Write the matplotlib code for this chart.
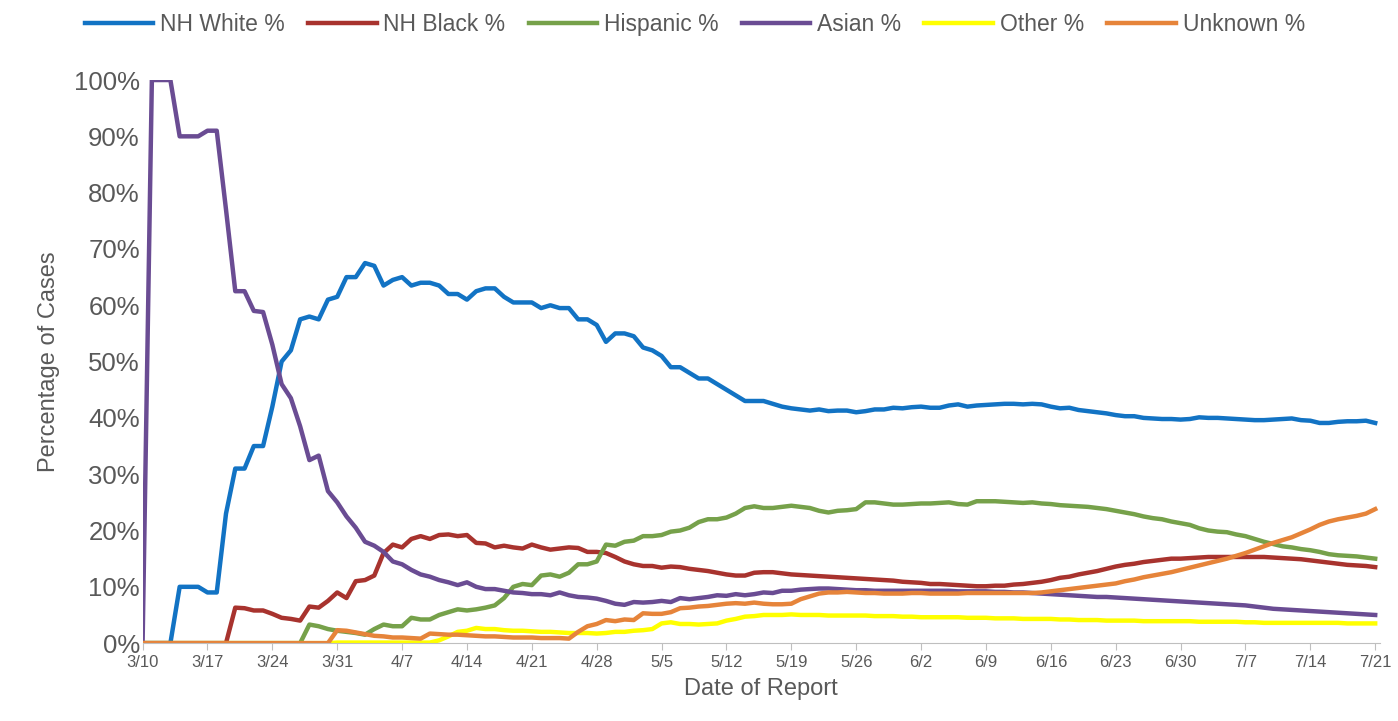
import matplotlib
matplotlib.use("Agg")
import matplotlib.pyplot as plt
from matplotlib.ticker import FuncFormatter
import numpy as np

# daily values, 3/10 .. 7/21 (134 days), split by month
white = (
    [0, 0, 0, 0, 10, 10, 10, 9, 9, 23, 31, 31, 35, 35, 42, 50, 52, 57.5, 58, 57.5, 61, 61.5]
    + [65, 65, 67.5, 67, 63.5, 64.5, 65, 63.5, 64, 64, 63.5, 62, 62, 61, 62.5, 63, 63, 61.5, 60.5, 60.5,
       60.5, 59.5, 60, 59.5, 59.5, 57.5, 57.5, 56.5, 53.5, 55]
    + [55, 54.5, 52.5, 52, 51, 49, 49, 48, 47, 47, 46, 45, 44, 43, 43, 43, 42.5, 42, 41.7, 41.5,
       41.3, 41.5, 41.2, 41.3, 41.3, 41, 41.2, 41.5, 41.5, 41.8, 41.7]
    + [41.9, 42, 41.8, 41.8, 42.2, 42.4, 42, 42.2, 42.3, 42.4, 42.5, 42.5, 42.4, 42.5, 42.4, 42, 41.7,
       41.8, 41.4, 41.2, 41, 40.8, 40.5, 40.3, 40.3, 40, 39.9, 39.8, 39.8, 39.7]
    + [39.8, 40.1, 40, 40, 39.9, 39.8, 39.7, 39.6, 39.6, 39.7, 39.8, 39.9, 39.6, 39.5, 39.1, 39.1,
       39.3, 39.4, 39.4, 39.5, 39.1]
)
black = (
    [0] * 10 + [6.3, 6.2, 5.8, 5.8, 5.2, 4.5, 4.3, 4, 6.5, 6.3, 7.5, 9]
    + [8, 11, 11.2, 12, 16, 17.5, 17, 18.5, 19, 18.5, 19.2, 19.3, 19, 19.2, 17.8, 17.7, 17, 17.3, 17,
       16.8, 17.5, 17, 16.6, 16.8, 17, 16.9, 16.2, 16.2, 16, 15.3]
    + [14.5, 14, 13.7, 13.7, 13.4, 13.6, 13.5, 13.2, 13, 12.8, 12.5, 12.2, 12, 12, 12.5, 12.6, 12.6,
       12.4, 12.2, 12.1, 12, 11.9, 11.8, 11.7, 11.6, 11.5, 11.4, 11.3, 11.2, 11.1, 10.9]
    + [10.8, 10.7, 10.5, 10.5, 10.4, 10.3, 10.2, 10.1, 10.1, 10.2, 10.2, 10.4, 10.5, 10.7, 10.9, 11.2,
       11.6, 11.8, 12.2, 12.5, 12.8, 13.2, 13.6, 13.9, 14.1, 14.4, 14.6, 14.8, 15, 15]
    + [15.1, 15.2, 15.3, 15.3, 15.3, 15.3, 15.3, 15.3, 15.3, 15.2, 15.1, 15, 14.9, 14.7, 14.5, 14.3,
       14.1, 13.9, 13.8, 13.7, 13.5]
)
hispanic = (
    [0] * 18 + [3.3, 3, 2.5, 2.2]
    + [2, 1.8, 1.5, 2.5, 3.3, 3, 3, 4.5, 4.2, 4.2, 5, 5.5, 6, 5.8, 6, 6.3, 6.7, 8, 10, 10.5, 10.3,
       12, 12.2, 11.8, 12.5, 14, 14, 14.5, 17.5, 17.3]
    + [18, 18.2, 19, 19, 19.2, 19.8, 20, 20.5, 21.5, 22, 22, 22.3, 23, 24, 24.3, 24, 24, 24.2, 24.4,
       24.2, 24, 23.5, 23.2, 23.5, 23.6, 23.8, 25, 25, 24.8, 24.6, 24.6]
    + [24.7, 24.8, 24.8, 24.9, 25, 24.7, 24.6, 25.2, 25.2, 25.2, 25.1, 25, 24.9, 25, 24.8, 24.7, 24.5,
       24.4, 24.3, 24.2, 24, 23.8, 23.5, 23.2, 22.9, 22.5, 22.2, 22, 21.6, 21.3]
    + [21, 20.4, 20, 19.8, 19.7, 19.3, 19, 18.5, 18, 17.6, 17.2, 17, 16.7, 16.5, 16.2, 15.8, 15.6,
       15.5, 15.4, 15.2, 15]
)
asian = (
    [0, 100, 100, 100, 90, 90, 90, 91, 91, 77, 62.5, 62.5, 59, 58.8, 53, 46, 43.5, 38.5, 32.5, 33.3,
     27, 25]
    + [22.5, 20.5, 18, 17.3, 16.2, 14.5, 14, 13, 12.2, 11.8, 11.2, 10.8, 10.3, 10.8, 10, 9.6, 9.6, 9.3,
       9, 8.9, 8.7, 8.7, 8.5, 9, 8.5, 8.2, 8.1, 7.9, 7.5, 7]
    + [6.8, 7.3, 7.2, 7.3, 7.5, 7.3, 8, 7.8, 8, 8.2, 8.5, 8.4, 8.7, 8.5, 8.7, 9, 8.9, 9.3, 9.3, 9.5,
       9.6, 9.7, 9.7, 9.6, 9.5, 9.4, 9.4, 9.3, 9.3, 9.3, 9.3]
    + [9.3, 9.3, 9.3, 9.3, 9.3, 9.2, 9.2, 9.2, 9.2, 9.1, 9.1, 9, 9, 8.9, 8.8, 8.7, 8.6, 8.5, 8.4, 8.3,
       8.2, 8.2, 8.1, 8, 7.9, 7.8, 7.7, 7.6, 7.5, 7.4]
    + [7.3, 7.2, 7.1, 7, 6.9, 6.8, 6.7, 6.5, 6.3, 6.1, 6, 5.9, 5.8, 5.7, 5.6, 5.5, 5.4, 5.3, 5.2, 5.1, 5]
)
other = (
    [0] * 21 + [0.1]
    + [0.1, 0.1, 0.1, 0.1, 0.1, 0.1, 0.1, 0.1, 0.1, 0.1, 0.5, 1.2, 2, 2.2, 2.7, 2.5, 2.5, 2.3, 2.2,
       2.2, 2.1, 2, 2, 1.9, 1.8, 1.8, 1.8, 1.7, 1.8, 2]
    + [2, 2.2, 2.3, 2.5, 3.5, 3.7, 3.4, 3.4, 3.3, 3.4, 3.5, 4, 4.3, 4.7, 4.8, 5, 5, 5, 5.1, 5, 5, 5,
       4.9, 4.9, 4.9, 4.9, 4.9, 4.8, 4.8, 4.8, 4.7]
    + [4.7, 4.6, 4.6, 4.6, 4.6, 4.6, 4.5, 4.5, 4.5, 4.4, 4.4, 4.4, 4.3, 4.3, 4.3, 4.3, 4.2, 4.2, 4.1,
       4.1, 4.1, 4, 4, 4, 4, 3.9, 3.9, 3.9, 3.9, 3.9]
    + [3.9, 3.8, 3.8, 3.8, 3.8, 3.8, 3.7, 3.7, 3.6, 3.6, 3.6, 3.6, 3.6, 3.6, 3.6, 3.6, 3.6, 3.5, 3.5,
       3.5, 3.5]
)
unknown = (
    [0] * 21 + [2.3]
    + [2.2, 1.9, 1.6, 1.3, 1.2, 1, 1, 0.9, 0.8, 1.7, 1.6, 1.5, 1.5, 1.4, 1.3, 1.2, 1.2, 1.1, 1, 1, 1,
       0.9, 0.9, 0.9, 0.8, 2, 3, 3.4, 4.1, 3.9]
    + [4.2, 4.1, 5.3, 5.2, 5.2, 5.5, 6.2, 6.3, 6.5, 6.6, 6.8, 7, 7.1, 7, 7.2, 7, 6.9, 6.9, 7, 7.8, 8.3,
       8.8, 9, 9, 9.1, 9, 8.9, 8.9, 8.8, 8.8, 8.8]
    + [8.9, 8.9, 8.8, 8.8, 8.8, 8.8, 8.9, 8.9, 8.9, 8.9, 8.9, 8.9, 8.9, 8.9, 9, 9.2, 9.4, 9.6, 9.8, 10,
       10.2, 10.4, 10.6, 11, 11.3, 11.7, 12, 12.3, 12.6, 13]
    + [13.4, 13.8, 14.2, 14.6, 15, 15.5, 16, 16.6, 17.2, 17.8, 18.3, 18.8, 19.5, 20.2, 21, 21.6, 22,
       22.3, 22.6, 23, 23.8]
)
tick_labels = ["3/10", "3/17", "3/24", "3/31", "4/7", "4/14", "4/21", "4/28", "5/5", "5/12",
               "5/19", "5/26", "6/2", "6/9", "6/16", "6/23", "6/30", "7/7", "7/14", "7/21"]

series = [
    ("NH White %", white, "#1273C4"),
    ("NH Black %", black, "#A8332E"),
    ("Hispanic %", hispanic, "#76A14A"),
    ("Asian %", asian, "#6A4C93"),
    ("Other %", other, "#FFFF00"),
    ("Unknown %", unknown, "#E6843A"),
]

plt.rcParams["font.family"] = ["Liberation Sans", "DejaVu Sans"]
grey = "#595959"

fig = plt.figure(figsize=(13.98, 7.21), dpi=100)
ax = fig.add_axes([0.102, 0.108, 0.885, 0.781])
for name, vals, col in series:
    ax.plot(np.arange(len(vals)), vals, color=col, lw=3.2, label=name)

ax.set_xlim(0, 133.5)
ax.set_ylim(0, 100)
ax.set_xticks(np.arange(0, 134, 7))
ax.set_xticklabels(tick_labels, fontsize=12, color=grey)
ax.yaxis.set_major_formatter(FuncFormatter(lambda v, p: f"{v:.0f}%"))
ax.set_yticks(np.arange(0, 101, 10))
ax.tick_params(axis="y", length=0, labelsize=18.5, labelcolor=grey, pad=2)
ax.tick_params(axis="x", which="major", length=5, color="#BFBFBF")
for s in ["top", "right", "left"]:
    ax.spines[s].set_visible(False)
ax.spines["bottom"].set_color("#BFBFBF")
ax.set_xlabel("Date of Report", fontsize=17, color=grey, labelpad=6)
ax.set_ylabel("Percentage of Cases", fontsize=17, color=grey, labelpad=10)
fig.legend(loc="upper center", bbox_to_anchor=(0.497, 1.01), ncol=6, frameon=False,
           fontsize=16.5, labelcolor=grey, handlelength=3, columnspacing=1.0, handletextpad=0.3)

fig.savefig("out.png", dpi=100)
